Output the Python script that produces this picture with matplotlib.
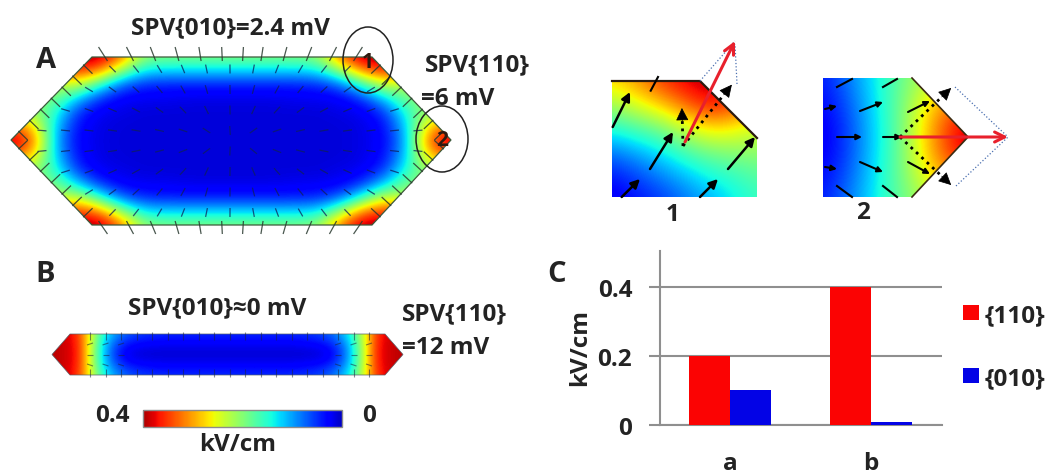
import numpy as np
import matplotlib
matplotlib.use("Agg")
import matplotlib.pyplot as plt
from matplotlib.patches import Polygon, Ellipse, Rectangle
from matplotlib.collections import LineCollection

plt.rcParams['font.family'] = ['Open Sans', 'DejaVu Sans']
plt.rcParams['font.weight'] = 'bold'
plt.rcParams['axes.labelweight'] = 'bold'

# ---------- bar chart data ----------
categories = ['a', 'b']
field_110 = [0.20, 0.40]
field_010 = [0.101, 0.008]
yticks = [0, 0.2, 0.4]
ytick_labels = ['0', '0.2', '0.4']

# ---------- field maps (fraction of the 0.4 kV/cm scale) ----------
field_a_quarter = [
    [.95, .95, .95, .97, .97, .80, .52, .50, .50, .50, .50],
    [.85, .85, .85, .85, .78, .52, .35, .33, .33, .33, .33],
    [.55, .55, .55, .60, .40, .22, .16, .15, .15, .15, .15],
    [.50, .50, .50, .32, .17, .11, .10, .10, .09, .09, .09],
    [.58, .55, .40, .17, .10, .09, .08, .08, .08, .08, .08],
    [.82, .70, .33, .13, .09, .08, .08, .08, .08, .08, .08],
    [.97, .82, .30, .12, .09, .08, .08, .08, .08, .08, .08],
]
field_b_quarter = [
    [.95, .93, .86, .58, .36, .25, .20, .18, .17, .17, .17, .17, .17, .17],
    [.95, .93, .88, .56, .30, .18, .13, .12, .11, .11, .11, .11, .11, .11],
    [.95, .93, .89, .55, .28, .13, .08, .07, .07, .07, .07, .07, .07, .07],
]
field_inset1 = [
    [.68, .75, .85, .92, .95, .90, .80],
    [.55, .62, .70, .80, .90, .85, .75],
    [.40, .45, .50, .60, .68, .66, .60],
    [.25, .30, .36, .44, .50, .52, .53],
    [.15, .20, .26, .32, .38, .42, .46],
    [.10, .14, .18, .24, .30, .36, .42],
]
field_inset2 = [
    [.15, .24, .35, .45, .55, .60, .60],
    [.12, .20, .33, .46, .62, .78, .85],
    [.10, .18, .32, .45, .65, .85, .98],
    [.12, .20, .33, .46, .62, .78, .85],
    [.15, .24, .35, .45, .55, .60, .60],
]

W, H = 1051, 477
fig = plt.figure(figsize=(W / 100, H / 100), dpi=100, facecolor='white')
ax = fig.add_axes([0, 0, 1, 1])
ax.set_xlim(0, W)
ax.set_ylim(H, 0)
ax.axis('off')
ax.set_autoscale_on(False)
TXT = '#232323'
FS = 17.5
FL = 21


def mirror_both(q):
    q = np.array(q)
    top = np.hstack([q, q[:, -2::-1]])
    return np.vstack([top, top[-2::-1]])


def field(grid, x0, x1, y0, y1, verts):
    grid = np.array(grid)
    ny, nx = grid.shape
    dx, dy = (x1 - x0) / (nx - 1), (y1 - y0) / (ny - 1)
    im = ax.imshow(grid, cmap='jet', vmin=0, vmax=1, aspect='auto', interpolation='bicubic',
                   extent=(x0 - dx / 2, x1 + dx / 2, y1 + dy / 2, y0 - dy / 2), zorder=1)
    p = Polygon(verts, closed=True, fc='none', ec='none', transform=ax.transData)
    ax.add_patch(p)
    im.set_clip_path(p)
    return im


# ---------- panel A ----------
hexA = [(11, 141), (92, 58), (372, 58), (451, 141), (372, 226), (92, 226)]
field(mirror_both(field_a_quarter), 11, 451, 58, 226, hexA)
ax.add_patch(Polygon(hexA, closed=True, fc='none', ec='#3c5a3c', lw=0.9, zorder=3))

cx, cy = 231, 141
segs = []
for x in np.arange(42, 430, 23.5):
    for y in np.arange(70, 220, 20.5):
        if abs(x - cx) + abs(y - cy) * 0.96 < 205:
            d = np.array([(x - cx) * 0.6, (y - cy) * 1.0]) + 1e-3
            d = d / np.hypot(*d) * 4.5
            segs.append([(x - d[0], y - d[1]), (x + d[0], y + d[1])])
ax.add_collection(LineCollection(segs, colors='#10205a', linewidths=0.9, alpha=0.75, zorder=2))

top_x = [103, 130, 153, 177, 200, 222, 243, 262, 285, 309, 333, 358]
segs = []
for x in top_x:
    lean = (x - cx) * 0.035
    segs.append([(x + lean, 48), (x - lean, 62)])
    segs.append([(x - lean, 235), (x + lean, 222)])
for (a, b) in [(hexA[0], hexA[1]), (hexA[2], hexA[3]), (hexA[3], hexA[4]), (hexA[5], hexA[0])]:
    a, b = np.array(a, float), np.array(b, float)
    t = (b - a) / np.hypot(*(b - a))
    n = np.array([-t[1], t[0]])
    if np.dot(n, np.array([cx, cy]) - a) < 0:
        n = -n
    for f in np.linspace(0.1, 0.9, 7):
        p0 = a + (b - a) * f
        segs.append([p0 - n * 1, p0 + n * 12])
ax.add_collection(LineCollection(segs, colors='#2a3a30', linewidths=0.9, alpha=0.85, zorder=4))

for (ex, ey, ew, eh) in [(368, 61, 50, 66), (442, 140, 52, 66)]:
    ax.add_patch(Ellipse((ex, ey), ew, eh, fc='none', ec='#222222', lw=1.1, zorder=5))

ax.text(46, 60, 'A', fontsize=FL, color=TXT, ha='center', va='center')
ax.text(230, 28, 'SPV{010}=2.4 mV', fontsize=FS, color=TXT, ha='center', va='center')
ax.text(425, 65, 'SPV{110}', fontsize=FS, color=TXT, ha='left', va='center', zorder=6)
ax.text(421, 99, '=6 mV', fontsize=FS, color=TXT, ha='left', va='center', zorder=6)
ax.text(368, 63, '1', fontsize=15, color='#301a10', ha='center', va='center', zorder=6)
ax.text(442, 141, '2', fontsize=15, color='#301a10', ha='center', va='center', zorder=6)

# ---------- panel B ----------
hexB = [(52, 355.5), (70, 335), (385, 335), (403, 355.5), (385, 376), (70, 376)]
field(mirror_both(field_b_quarter), 52, 403, 335, 376, hexB)
ax.add_patch(Polygon(hexB, closed=True, fc='none', ec='#55606a', lw=0.5, zorder=3))
segs = []
for x in np.arange(90, 370, 15.5):
    segs.append([(x, 333), (x, 341)])
    segs.append([(x, 370), (x, 378)])
    if x < 125 or x > 335:
        segs.append([(x - 3, 355.5), (x + 3, 355.5)])
        segs.append([(x - 3, 346), (x + 3, 344)])
        segs.append([(x - 3, 365), (x + 3, 367)])
ax.add_collection(LineCollection(segs, colors='#1c2440', linewidths=0.8, alpha=0.55, zorder=4))

ax.imshow(np.linspace(0.96, 0.06, 256)[None, :], cmap='jet', vmin=0, vmax=1, aspect='auto',
          extent=(143, 342, 428, 411), zorder=1)
ax.add_patch(Rectangle((143, 411), 199, 17, fc='none', ec='#8c8c8c', lw=1.0, zorder=2))
ax.text(45, 275, 'B', fontsize=FL, color=TXT, ha='center', va='center')
ax.text(217, 308, 'SPV{010}≈0 mV', fontsize=FS, color=TXT, ha='center', va='center')
ax.text(402, 314, 'SPV{110}', fontsize=FS, color=TXT, ha='left', va='center')
ax.text(402, 348, '=12 mV', fontsize=FS, color=TXT, ha='left', va='center')
ax.text(112, 416, '0.4', fontsize=FS, color=TXT, ha='center', va='center')
ax.text(369, 416, '0', fontsize=FS, color=TXT, ha='center', va='center')
ax.text(238, 445, 'kV/cm', fontsize=FS, color=TXT, ha='center', va='center')

# ---------- insets ----------
in1 = [(612, 82), (700, 82), (757, 139), (757, 198), (612, 198)]
in2 = [(823, 79), (912, 79), (968, 138), (912, 198), (823, 198)]
field(field_inset1, 612, 757, 82, 198, in1)
field(field_inset2, 823, 968, 79, 198, in2)
ax.plot([612, 700, 757], [82, 82, 139], color='#2a1a10', lw=1.6, zorder=3)
ax.plot([912, 968, 912], [79, 138, 198], color='#3a2a10', lw=1.2, zorder=3)


def head(p, q, color='black', ms=12, z=5, lw=1.5):
    ax.annotate('', xy=q, xytext=p, zorder=z,
                arrowprops=dict(arrowstyle='-|>', color=color, lw=lw,
                                mutation_scale=ms, shrinkA=0, shrinkB=0))


def line(p, q, color='black', lw=1.8, ls='-', z=5):
    ax.plot([p[0], q[0]], [p[1], q[1]], color=color, lw=lw, ls=ls, zorder=z)


def dotted_arrow(p, q, ms=20):
    p, q = np.array(p, float), np.array(q, float)
    line(p, q, ls=':', lw=2)
    u = (q - p) / np.hypot(*(q - p))
    head(q - u * 10, q + u * 3, ms=ms, lw=0.5)


for p, q in [((612.7, 128), (630, 93)), ((650, 170), (673, 133)), ((621.7, 198), (640, 180)),
             ((700, 198), (718, 180)), ((728, 170), (755, 138))]:
    head(p, q, lw=1.8, ms=13)
line((650.7, 91.7), (658, 78), lw=1.5)
dotted_arrow((683, 147), (682, 112))
dotted_arrow((683, 147), (730, 88))
line((700, 82), (735, 42), color='#4a6fb0', lw=0.9, ls=':')
line((737, 85), (735, 45), color='#4a6fb0', lw=0.9, ls=':')
ax.annotate('', xy=(735, 42), xytext=(685, 143), zorder=6,
            arrowprops=dict(arrowstyle='->', color='#e8202c', lw=2.2, mutation_scale=18,
                            shrinkA=0, shrinkB=0))

for p, q in [((837, 138), (862, 138)), ((883, 138), (902, 138)), ((860, 112), (883, 103)),
             ((908, 113), (930, 102)), ((860, 163), (883, 173)), ((908, 163), (930, 175)),
             ((825, 110), (837, 107)), ((825, 168), (837, 170))]:
    head(p, q, lw=1.5, ms=8)
for p, q in [((837, 88), (852, 80)), ((883, 88), (897, 80)), ((837, 187), (852, 198)), ((883, 187), (897, 198))]:
    line(p, q, lw=1.5)
dotted_arrow((900, 138), (949, 91))
dotted_arrow((900, 138), (949, 184))
line((955, 88), (1008, 138), color='#4a6fb0', lw=0.9, ls=':')
line((956, 187), (1008, 138), color='#4a6fb0', lw=0.9, ls=':')
ax.annotate('', xy=(1008, 138), xytext=(900, 138), zorder=6,
            arrowprops=dict(arrowstyle='->', color='#e8202c', lw=2.2, mutation_scale=18,
                            shrinkA=0, shrinkB=0))
ax.text(673, 215, '1', fontsize=FS, color=TXT, ha='center', va='center')
ax.text(863, 213, '2', fontsize=FS, color=TXT, ha='center', va='center')

# ---------- panel C ----------
ax.text(557, 275, 'C', fontsize=FL, color=TXT, ha='center', va='center')
bx = fig.add_axes([660 / W, 1 - 426 / H, (942 - 660) / W, (426 - 252) / H])
bx.patch.set_alpha(0)
xs = np.arange(len(categories))
bw = 0.292
GR = '#8f8f8f'
bx.bar(xs - bw / 2, field_110, bw, color='#fb0303', label='{110}', zorder=3)
bx.bar(xs + bw / 2, field_010, bw, color='#0303e6', label='{010}', zorder=3)
bx.set_xlim(-0.5, 1.505)
bx.set_ylim(0, 0.504)
bx.set_yticks(yticks)
bx.set_yticklabels(ytick_labels, fontsize=FS, color=TXT)
bx.set_xticks(xs)
bx.set_xticklabels(categories, fontsize=FS, color=TXT)
bx.tick_params(axis='y', length=8, width=1.5, color=GR, pad=12)
bx.tick_params(axis='x', length=0, pad=19)
bx.grid(axis='y', color=GR, lw=1.5, zorder=1)
bx.set_axisbelow(True)
for s in ['top', 'right']:
    bx.spines[s].set_visible(False)
for s in ['left', 'bottom']:
    bx.spines[s].set_color(GR)
    bx.spines[s].set_linewidth(1.5)
bx.set_ylabel('kV/cm', fontsize=FS, color=TXT)
bx.yaxis.set_label_coords((592 - 660) / (942 - 660), (426 - 347) / (426 - 252))
h, l = bx.get_legend_handles_labels()
bx.legend(h, l, loc='center left', bbox_to_anchor=(1.074, 0.45), frameon=False, fontsize=FS,
          labelspacing=1.63, handlelength=0.65, handleheight=0.57, handletextpad=0.25,
          labelcolor=TXT, borderpad=0, borderaxespad=0)

fig.savefig('out.png', dpi=100)
